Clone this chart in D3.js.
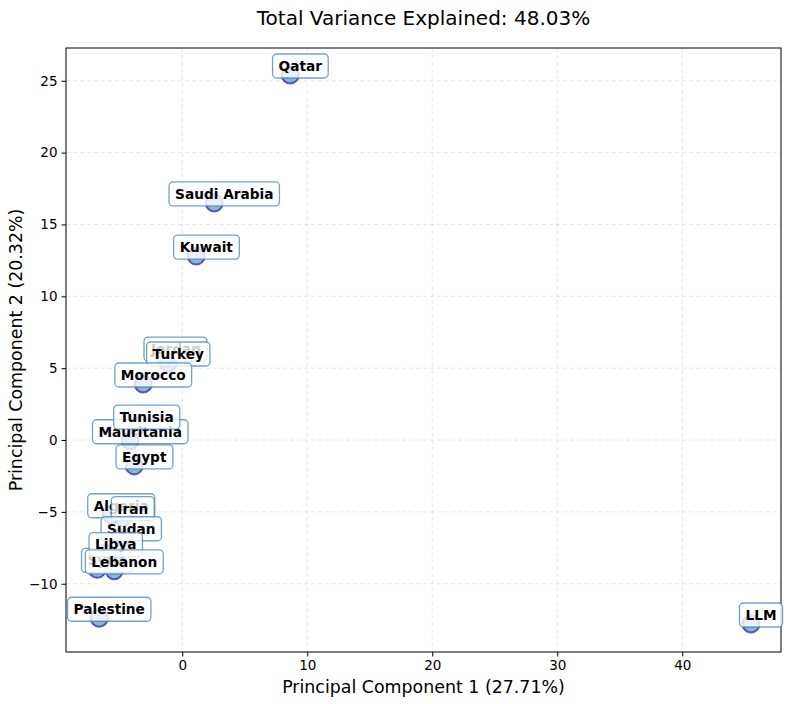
<!DOCTYPE html>
<html lang="en">
<head>
<meta charset="utf-8">
<script src="https://cdn.jsdelivr.net/npm/d3@7"></script>
<style>
  body { margin: 0; background: #fff; }
  text { font-family: "DejaVu Sans", sans-serif; }
</style>
</head>
<body>
<script>
    // PCA scores (PC1, PC2)
    var countries = ['Qatar', 'Saudi Arabia', 'Kuwait', 'Jordan', 'Turkey', 'Morocco',
        'Mauritania', 'Tunisia', 'Egypt', 'Algeria', 'Iran', 'Sudan', 'Syria', 'Libya',
        'Lebanon', 'Palestine', 'LLM'];
    var pc1 = [8.64, 2.56, 1.12, -1.3, -1.12, -3.12,
        -4.16, -3.64, -3.84, -5.68, -4.76, -4.88, -6.8, -6.12,
        -5.44, -6.64, 45.5];
    var pc2 = [25.4, 16.5, 12.8, 5.7, 5.36, 3.9,
        -0.05, 0.97, -1.8, -5.2, -5.4, -6.8, -9.0, -7.9,
        -9.1, -12.4, -12.8];
    var xTicks = [0, 10, 20, 30, 40];
    var yTicks = [-10, -5, 0, 5, 10, 15, 20, 25];

    var W = 793, H = 704;
    var pLeft = 66, pRight = 781, pTop = 48, pBottom = 652;

    var svg = d3.select('body').append('svg')
            .attr('width', W)
            .attr('height', H);

    var x = d3.scaleLinear().domain([-9.3, 47.9]).range([pLeft, pRight]);
    var y = d3.scaleLinear().domain([-14.75, 27.28]).range([pBottom, pTop]);

    // grid
    svg.append('g').selectAll('line')
            .data(xTicks).enter().append('line')
            .attr('x1', function (d) { return x(d); })
            .attr('x2', function (d) { return x(d); })
            .attr('y1', pTop).attr('y2', pBottom)
            .attr('stroke', '#b0b0b0').attr('stroke-opacity', 0.3)
            .attr('stroke-dasharray', '4,3');
    svg.append('g').selectAll('line')
            .data(yTicks).enter().append('line')
            .attr('y1', function (d) { return y(d); })
            .attr('y2', function (d) { return y(d); })
            .attr('x1', pLeft).attr('x2', pRight)
            .attr('stroke', '#b0b0b0').attr('stroke-opacity', 0.3)
            .attr('stroke-dasharray', '4,3');

    // axes
    var xAxis = svg.append('g')
            .attr('transform', 'translate(0,' + pBottom + ')')
            .call(d3.axisBottom(x).tickValues(xTicks).tickSize(4.5).tickPadding(4)
                .tickFormat(d3.format('d')));
    var yAxis = svg.append('g')
            .attr('transform', 'translate(' + pLeft + ',0)')
            .call(d3.axisLeft(y).tickValues(yTicks).tickSize(4.5).tickPadding(4)
                .tickFormat(function (d) { return d < 0 ? '\u2212' + Math.abs(d) : d; }));
    [xAxis, yAxis].forEach(function (a) {
        a.select('.domain').remove();
        a.selectAll('text').style('font-size', '13.5px').style('font-family', '"DejaVu Sans", sans-serif').attr('fill', '#000');
        a.selectAll('line').attr('stroke', '#000');
    });

    svg.append('rect')
            .attr('x', pLeft).attr('y', pTop)
            .attr('width', pRight - pLeft).attr('height', pBottom - pTop)
            .attr('fill', 'none').attr('stroke', '#000').attr('stroke-width', 1);

    // points
    svg.append('g').selectAll('circle')
            .data(countries).enter().append('circle')
            .attr('cx', function (d, i) { return x(pc1[i]); })
            .attr('cy', function (d, i) { return y(pc2[i]); })
            .attr('r', 8.5)
            .attr('fill', 'steelblue').attr('fill-opacity', 0.6)
            .attr('stroke', 'darkblue').attr('stroke-opacity', 0.6)
            .attr('stroke-width', 2);

    // labels
    var labels = svg.append('g').selectAll('g')
            .data(countries).enter().append('g')
            .attr('transform', function (d, i) {
                return 'translate(' + (x(pc1[i]) + 10) + ',' + (y(pc2[i]) - 9) + ')';
            });
    labels.append('rect');
    labels.append('text')
            .attr('text-anchor', 'middle')
            .attr('dy', '0.36em')
            .style('font-size', '13.7px')
            .style('font-weight', 'bold')
            .text(function (d) { return d; });
    labels.each(function () {
        var g = d3.select(this);
        var b = g.select('text').node().getBBox();
        g.select('rect')
                .attr('x', b.x - 6).attr('y', -12)
                .attr('width', b.width + 12).attr('height', 24)
                .attr('rx', 4)
                .attr('fill', '#fff').attr('fill-opacity', 0.8)
                .attr('stroke', 'steelblue').attr('stroke-opacity', 0.75)
                .attr('stroke-width', 1.3);
    });

    // titles
    svg.append('text')
            .attr('x', (pLeft + pRight) / 2).attr('y', 25)
            .attr('text-anchor', 'middle')
            .style('font-size', '20px')
            .text('Total Variance Explained: 48.03%');
    svg.append('text')
            .attr('x', (pLeft + pRight) / 2).attr('y', 693)
            .attr('text-anchor', 'middle')
            .style('font-size', '17.4px')
            .text('Principal Component 1 (27.71%)');
    svg.append('text')
            .attr('transform', 'translate(22,' + ((pTop + pBottom) / 2) + ') rotate(-90)')
            .attr('text-anchor', 'middle')
            .style('font-size', '17.4px')
            .text('Principal Component 2 (20.32%)');
</script>
</body>
</html>
